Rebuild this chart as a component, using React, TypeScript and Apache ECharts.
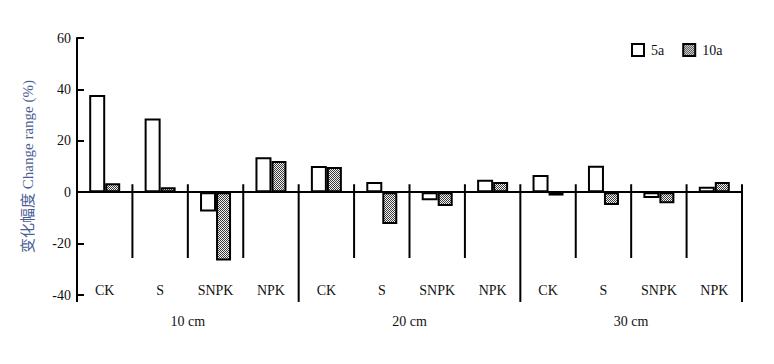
import React, { useEffect, useRef } from "react";
import * as echarts from "echarts";

const categories = ["CK", "S", "SNPK", "NPK", "CK", "S", "SNPK", "NPK", "CK", "S", "SNPK", "NPK"];
const groups = ["10 cm", "20 cm", "30 cm"];
const values5a = [37.8, 28.7, -7.5, 13.6, 10.2, 4.0, -3.1, 4.8, 6.7, 10.3, -2.3, 2.1];
const values10a = [3.5, 1.9, -26.6, 12.1, 9.8, -12.4, -5.4, 4.0, -1.3, -5.0, -4.3, 4.0];
// separators: [category index, side (-0.5 left / 0.5 right), top value, bottom value]
const separators = [
  [0, -0.5, 0, -42.7],
  [1, -0.5, 3.1, -25.6],
  [2, -0.5, 3.1, -25.6],
  [3, -0.5, 3.1, -25.6],
  [4, -0.5, 3.1, -42.7],
  [5, -0.5, 3.1, -25.6],
  [6, -0.5, 3.1, -25.6],
  [7, -0.5, 3.1, -25.6],
  [8, -0.5, 3.1, -42.7],
  [9, -0.5, 3.1, -25.6],
  [10, -0.5, 3.1, -25.6],
  [11, -0.5, 3.1, -25.6],
  [11, 0.5, 3.1, -42.7],
];

const FONT = "'Times New Roman', 'Liberation Serif', 'Noto Sans CJK SC', serif";

function makePattern() {
  const c = document.createElement("canvas");
  c.width = 2;
  c.height = 2;
  const ctx = c.getContext("2d")!;
  ctx.fillStyle = "#f2f2f2";
  ctx.fillRect(0, 0, 2, 2);
  ctx.fillStyle = "#3a3a3a";
  ctx.fillRect(0, 0, 1, 1);
  ctx.fillRect(1, 1, 1, 1);
  return c;
}

export default function App() {
  const ref = useRef<HTMLDivElement>(null);
  useEffect(() => {
    if (!ref.current) return;
    const chart = echarts.init(ref.current, undefined, { renderer: "svg" });
    const pattern = { image: makePattern(), repeat: "repeat" };
    chart.setOption({
      animation: false,
      textStyle: { fontFamily: FONT },
      grid: { left: 77, right: 32, top: 38, bottom: 69, containLabel: false, outerBoundsMode: "none" },
      legend: {
        left: 631,
        top: 43,
        padding: 0,
        itemWidth: 12,
        itemHeight: 12,
        itemGap: 18,
        icon: "rect",
        textStyle: { fontFamily: FONT, fontSize: 14, color: "#111", padding: [0, 0, 0, 2] },
        data: ["5a", "10a"],
      },
      xAxis: [
        {
          type: "category",
          data: categories,
          axisLine: { onZero: true, lineStyle: { color: "#000", width: 2 } },
          axisTick: { show: false },
          axisLabel: { show: false },
          splitLine: { show: false },
        },
        {
          type: "category",
          data: categories,
          position: "bottom",
          axisLine: { show: false, onZero: false },
          axisTick: { show: false },
          axisLabel: { margin: -12, fontSize: 14, color: "#111", fontFamily: FONT, interval: 0 },
          splitLine: { show: false },
        },
        {
          type: "category",
          data: groups,
          position: "bottom",
          axisLine: { show: false, onZero: false },
          axisTick: { show: false },
          axisLabel: { margin: 19, fontSize: 14, color: "#111", fontFamily: FONT },
          splitLine: { show: false },
        },
      ],
      yAxis: {
        type: "value",
        min: -40,
        max: 60,
        interval: 20,
        name: "变化幅度 Change range (%)",
        nameLocation: "middle",
        nameRotate: 90,
        nameGap: 42,
        nameTextStyle: { fontSize: 15, color: "#4a5f96", fontFamily: FONT },
        axisLine: { show: true, lineStyle: { color: "#000", width: 2 } },
        axisTick: { show: true, inside: true, length: 7, lineStyle: { color: "#000", width: 2 } },
        axisLabel: { fontSize: 14, color: "#111", margin: 6, fontFamily: FONT },
        splitLine: { show: false },
      },
      series: [
        {
          name: "5a",
          type: "bar",
          data: values5a,
          barWidth: 16,
          barGap: "0%",
          itemStyle: { color: "#fff", borderColor: "#000", borderWidth: 2 },
        },
        {
          name: "10a",
          type: "bar",
          data: values10a,
          barWidth: 15,
          barGap: "0%",
          itemStyle: { color: pattern, borderColor: "#000", borderWidth: 2 },
        },
        {
          type: "custom",
          silent: true,
          clip: false,
          data: separators,
          encode: { x: 0, y: 2 },
          renderItem: (params: any, api: any) => {
            const idx = api.value(0);
            const side = api.value(1);
            const w = api.size([1, 0])[0];
            const p1 = api.coord([idx, api.value(2)]);
            const p2 = api.coord([idx, api.value(3)]);
            const x = p1[0] + side * w;
            return {
              type: "line",
              shape: { x1: x, y1: p1[1], x2: x, y2: p2[1] },
              style: { stroke: "#000", lineWidth: 2 },
            };
          },
          z: 5,
        },
      ],
    });
    return () => chart.dispose();
  }, []);
  return (
    <div
      ref={ref}
      style={{ position: "fixed", left: 0, top: 0, width: 774, height: 364, background: "#fff" }}
    />
  );
}
